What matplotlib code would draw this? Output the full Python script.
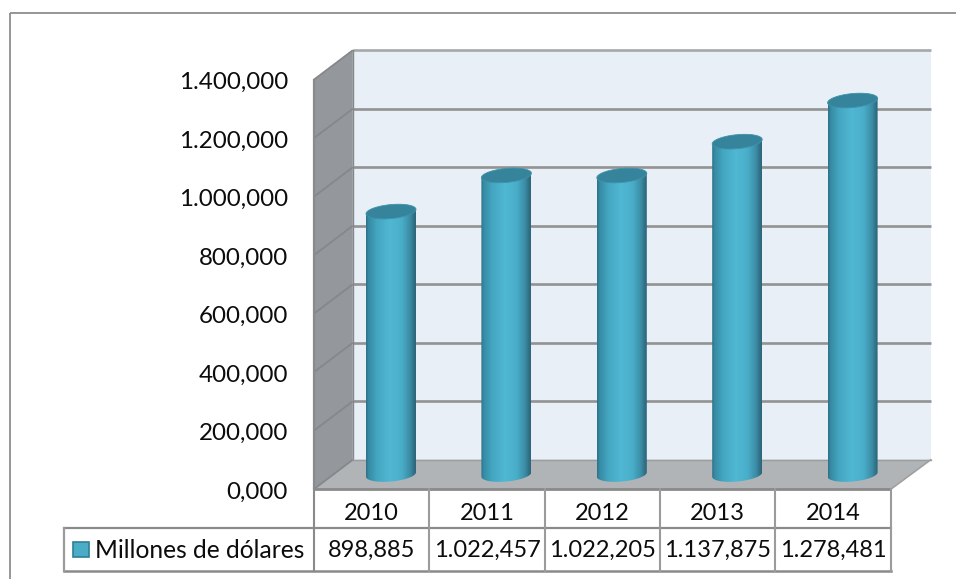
import numpy as np
import matplotlib
matplotlib.use("Agg")
import matplotlib.pyplot as plt
from matplotlib.colors import LinearSegmentedColormap
from matplotlib.patches import Polygon, Rectangle

# ---- data ----
years = ["2010", "2011", "2012", "2013", "2014"]
values = [898.885, 1022.457, 1022.205, 1137.875, 1278.481]
yticks = [0, 200, 400, 600, 800, 1000, 1200, 1400]
series_name = "Millones de dólares"

# ---- layout ----
W, H = 956, 579
PX_PER_CAT = 115.4
PX_PER_UNIT = 58.5 / 200
X0_PX, Y0_PX = 391.0, 474.5
DEPTH_X, DEPTH_Y = 39 / PX_PER_CAT, 29.5 / PX_PER_UNIT

plt.rcParams["font.family"] = ["Lato", "DejaVu Sans"]
FS = 17.4
FS_TAB = 17.0
FS_LEG = 17.7
fig = plt.figure(figsize=(W / 100, H / 100), dpi=100, facecolor="white")
ax = fig.add_axes([0, 0, 1, 1])
ax.set_axis_off()


def dx(px):
    return (px - X0_PX) / PX_PER_CAT


def dy(py):
    return (Y0_PX - py) / PX_PER_UNIT


def proj(x, v, d):
    """d=-0.5 front plane, d=0 bar plane, d=+0.5 back wall."""
    return x + d * DEPTH_X, v + d * DEPTH_Y


L, R, TOP = -0.5, 4.5, yticks[-1]
RX = 0.008  # small widening of the back wall at its right end
GRID = "#929292"

# walls
back = [proj(L, 0, .5), proj(R + RX, 0, .5), proj(R + RX, TOP, .5), proj(L, TOP, .5)]
ax.add_patch(Polygon(back, closed=True, fc="#e8eff6", ec="none", zorder=1))
side = [proj(L, 0, -.5), proj(L, 0, .5), proj(L, TOP, .5), proj(L, TOP, -.5)]
ax.add_patch(Polygon(side, closed=True, fc="#94989c", ec="none", zorder=1))
floor = [proj(L, 0, -.5), proj(R, 0, -.5), proj(R + RX, 0, .5), proj(L, 0, .5)]
ax.add_patch(Polygon(floor, closed=True, fc="#b1b4b7", ec="none", zorder=1))

# gridlines on back and side walls
for v in yticks:
    a, b, c = proj(L, v, -.5), proj(L, v, .5), proj(R + RX, v, .5)
    col = "#a6a8aa" if v == TOP else GRID
    if v > 0:
        ax.plot([b[0], c[0]], [b[1], c[1]], color=col, lw=1.9, zorder=2, solid_capstyle="butt")
    ax.plot([a[0], b[0]], [a[1], b[1]], color="#858789", lw=1.3, zorder=2, solid_capstyle="butt")
a, b = proj(L, 0, .5), proj(L, TOP, .5)
ax.plot([a[0], b[0]], [a[1], b[1]], color="#85888b", lw=1.0, zorder=2)
a, b = proj(L, 0, -.5), proj(L, TOP, -.5)
ax.plot([a[0], b[0]], [a[1], b[1]], color="#8a8a8a", lw=1.6, zorder=2)
a, b = proj(L, 0, .5), proj(R + RX, 0, .5)
ax.plot([a[0], b[0]], [a[1], b[1]], color="#9a9da0", lw=1.0, zorder=2)
a, b = proj(R, 0, -.5), proj(R + RX, 0, .5)
ax.plot([a[0], b[0]], [a[1], b[1]], color="#a0a0a0", lw=1.2, zorder=2)

# cylinders
cmap = LinearSegmentedColormap.from_list("cyl", [
    (0.00, "#2e7088"), (0.05, "#368aa3"), (0.22, "#44a6c1"), (0.48, "#50b8d4"),
    (0.72, "#49adc8"), (0.88, "#3c8da6"), (0.96, "#306f86"), (1.00, "#2c667b")])
grad = np.linspace(0, 1, 256).reshape(1, -1)
A = 25 / PX_PER_CAT
B = 7.0 / PX_PER_UNIT
SHEAR = 2.2 / PX_PER_UNIT
t = np.linspace(0, 2 * np.pi, 121)
for i, val in enumerate(values):
    lower = t[(t >= np.pi) & (t <= 2 * np.pi)]
    bx = i + A * np.cos(lower)
    by = B * np.sin(lower) + SHEAR * np.cos(lower)
    px = np.r_[i - A, bx, i + A]
    py = np.r_[val - SHEAR, by, val + SHEAR]
    body = Polygon(np.c_[px, py], closed=True, transform=ax.transData, fc="none", ec="none")
    ax.add_patch(body)
    im = ax.imshow(grad, cmap=cmap, extent=[i - A, i + A, -2 * B, val + 2 * B],
                   aspect="auto", zorder=3, interpolation="bilinear")
    im.set_clip_path(body)
    ex = i + A * np.cos(t)
    ey = val + B * np.sin(t) + SHEAR * np.cos(t)
    ax.fill(ex, ey, fc="#35849c", ec="#3f93ab", lw=0.6, zorder=4)

ax.set_xlim(dx(0), dx(W))
ax.set_ylim(dy(H), dy(0))

# y tick labels
for v in yticks:
    x, y = proj(L, v, -.5)
    lab = f"{v:,.3f}".replace(",", "#").replace(".", ",").replace("#", ".")
    ax.text(dx(288), y - 2.8 / PX_PER_UNIT, lab, ha="right", va="center", fontsize=FS, color="#0c0c0c")

# data table
ROW0, ROW1, ROW2 = 489.0, 528.0, 571.0
TAB = "#9b9b9b"
TAB2 = "#8a8a8a"
LEG_L = 64
front = [proj(L + k, 0, -.5)[0] for k in range(len(years) + 1)]
ax.plot([front[0], front[-1]], [dy(ROW0)] * 2, color=TAB2, lw=2.0, zorder=5, solid_capstyle="butt")
ax.plot([dx(LEG_L), front[-1]], [dy(ROW1)] * 2, color=TAB2, lw=1.6, zorder=5)
ax.plot([dx(LEG_L), front[-1]], [dy(ROW2)] * 2, color=TAB2, lw=1.8, zorder=5)
ax.plot([dx(LEG_L)] * 2, [dy(ROW1), dy(ROW2)], color=TAB, lw=1.6, zorder=5)
for k, xe in enumerate(front):
    ax.plot([xe] * 2, [dy(ROW0), dy(ROW2)], color=TAB if k else TAB2, lw=1.5, zorder=5)
for i, (yr, val) in enumerate(zip(years, values)):
    xc = (front[i] + front[i + 1]) / 2
    lab = f"{val:,.3f}".replace(",", "#").replace(".", ",").replace("#", ".")
    ax.text(xc, dy((ROW0 + ROW1) / 2 + 5.5), yr, ha="center", va="center", fontsize=FS_TAB, color="#0c0c0c")
    ax.text(xc, dy((ROW1 + ROW2) / 2 + 1), lab, ha="center", va="center", fontsize=FS_TAB, color="#0c0c0c")

# legend key + name
ax.add_patch(Rectangle((dx(73), dy(557)), 16 / PX_PER_CAT, 15.5 / PX_PER_UNIT,
                       fc="#4bacc6", ec="#2f7f97", lw=1.2, zorder=5))
ax.text(dx(95), dy((ROW1 + ROW2) / 2 + 1), series_name, ha="left", va="center", fontsize=FS_LEG, color="#0c0c0c")

# chart frame
ax.plot([dx(10), dx(W)], [dy(13), dy(13)], color="#8e8e8e", lw=1.3, zorder=6, solid_capstyle="butt")
ax.plot([dx(10), dx(10)], [dy(13), dy(H)], color="#8e8e8e", lw=1.3, zorder=6, solid_capstyle="butt")

fig.savefig("out.png", dpi=100, facecolor="white")
